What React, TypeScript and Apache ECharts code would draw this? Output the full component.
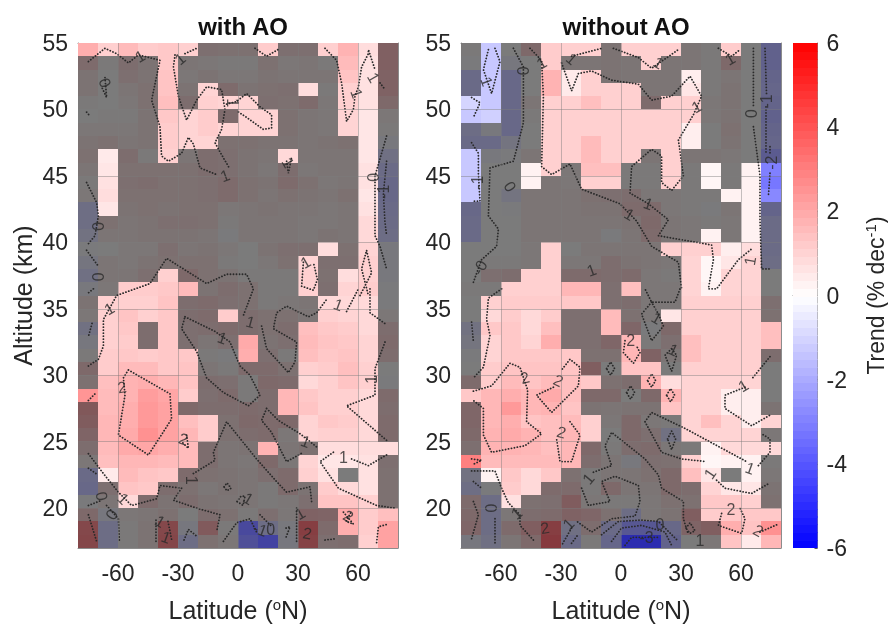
import React, { useEffect, useRef } from "react";
import * as echarts from "echarts";

const latitudes = [-75, -65, -55, -45, -35, -25, -15, -5, 5, 15, 25, 35, 45, 55, 65, 75];
const altitudes = [54.5,53.5,52.5,51.5,50.5,49.5,48.5,47.5,46.5,45.5,44.5,43.5,42.5,41.5,40.5,39.5,38.5,37.5,36.5,35.5,34.5,33.5,32.5,31.5,30.5,29.5,28.5,27.5,26.5,25.5,24.5,23.5,22.5,21.5,20.5,19.5,18.5,17.5];

const withAOValues = [
[1.9,1.1,1.6,1.2,1.3,1.1,.6,.5,.5,1.2,.6,.6,1.1,1.8,.8,1.3],
[.8,.1,.7,.4,1.3,.3,.2,.1,.1,.5,.2,.3,.1,1.6,.7,1.3],
[.4,0,.6,.4,1.4,.2,.4,.2,.2,.4,.3,.3,.3,1.4,.7,1.2],
[.4,0,.3,.5,1.4,.4,1.0,.8,.4,.5,.6,.8,.1,1.1,.7,1.2],
[.1,0,.2,.5,1.5,.7,1.1,1.0,1.0,.6,.5,.8,.2,1.1,.7,.9],
[0,.1,.1,.4,1.3,1.0,1.2,.8,1.0,1.0,.5,.3,.2,1.0,.6,.2],
[.2,.2,.2,.4,1.2,1.0,1.2,1.0,1.0,1.0,.5,.3,.2,1.0,.6,.1],
[.4,.5,.3,.4,1.2,1.0,1.0,.5,.5,.4,.4,.3,.4,.5,.6,-.2],
[.5,.5,.7,.1,1.1,.3,.7,.6,.4,.3,.9,.3,.3,.3,.6,-.8],
[.3,.6,.5,.5,.5,.5,.7,.6,.4,.2,.7,.2,.3,.3,.7,-1.1],
[.1,.7,.6,.7,.5,.5,.6,.8,.5,.4,.8,.5,.2,.3,.7,-1.3],
[.2,.8,.5,.5,.5,.5,.6,.8,.5,.3,.5,.4,.3,.5,.6,-1.3],
[-.9,.6,.4,.5,.4,.5,.5,.2,.3,.4,.3,.3,.2,.3,.7,-1.2],
[-.9,.5,.3,.4,.6,.6,.5,.1,.3,.3,.3,.2,.2,.3,.9,-1.1],
[-.6,.3,.3,.4,.4,.4,.3,-.1,.3,.3,.3,.2,.4,.3,.9,-1],
[-.1,0,.2,.2,.6,.3,.4,.2,0,.4,.6,.6,.8,.5,1.0,-.2],
[-.4,.3,.2,.4,.5,.5,.5,.1,0,.2,.5,1.0,.6,.6,1.1,-.2],
[-.8,.3,.3,.6,1.1,.9,.5,.4,.1,.1,.1,1.1,.5,.8,1.1,-.2],
[-.2,.2,1.2,1.2,1.3,1.6,.4,.7,.5,.1,.1,1.1,.6,1.0,1.2,-.1],
[.4,1.1,1.1,1.1,1.4,.7,.8,.6,.5,.1,.2,.3,.9,.9,.9,-.1],
[.2,1.1,1.4,1.1,1.3,.7,.8,1.2,.7,.5,.5,.3,1.1,1.0,.9,.2],
[-.7,1.1,1.3,.7,1.3,.6,.7,.8,.7,.5,.7,1.5,1.3,1.2,.9,.7],
[-.3,1.1,1.2,.7,1.3,.6,.3,.6,2,.4,.6,1.6,1.4,1.3,1.0,.8],
[.1,1.2,1.3,1.2,1.3,1.3,.1,-.1,1.9,.6,.1,1.5,1.3,1.4,1.0,.7],
[.9,1.2,1.6,1.6,1.3,1.4,.3,.1,.8,.8,.5,1.1,1.2,1.5,1.1,0],
[.5,1.5,1.8,1.9,1.7,1.4,.7,.6,.1,.9,.8,.9,1.1,1.4,1.1,-.1],
[2.5,1.6,1.8,2.3,2.1,1.2,.6,.8,.1,.7,1.7,1.3,1.1,1.1,.9,.8],
[1.7,1.6,1.9,2.4,2.2,.9,.7,.7,.8,.7,1.7,1.4,1.1,1.1,.9,.7],
[1.5,1.7,1.9,2.4,2.2,1.5,1.2,.5,.9,.8,.9,1.0,1.3,1.2,.9,.8],
[1.1,1.7,2.0,2.6,2.2,1.7,1.2,.5,.7,.8,.2,1.0,1.1,1.1,.9,.8],
[.7,1.6,2.0,2.1,1.9,1.6,.7,.3,.4,1.8,.3,.5,.8,.8,.8,.8],
[.2,1.5,1.7,1.7,1.6,1.6,.7,.3,.2,.9,.2,1.0,.6,.6,.7,.6],
[-1.2,.5,1.6,1.4,1.3,.8,.5,.4,.3,.6,.8,1.1,.7,0,.7,.5],
[-1.3,.6,1.4,1.3,.7,.5,.2,.4,.3,.1,.8,.4,1.2,.9,.7,.5],
[-.1,.3,.9,.8,.4,.7,.4,.3,.3,.1,.2,.6,1.4,1.4,1.1,.5],
[.9,-.3,.2,.3,.5,0,.7,.5,.1,.6,.2,1.2,1.1,2.0,1.2,1.5],
[2.5,-1,.1,.4,2.5,-.3,1.6,.1,-3.5,-1,-.2,3,.8,1.9,1.2,2.2],
[2.6,-1,.1,.4,2.6,-1,.5,.2,-3,-4,-.3,2.8,.6,.7,1.1,2.2],
];
const withAOSignificant = [
[0,1,2,3,4,5,9,12,13,14],[4,13,14],[4,13,14],[4,6,11,13,14],[4,6,7,8,13,14],[4,5,6,8,9,13,14],[4,5,6,7,8,9,13,14],[4,5,6,14],
[1,4,10,14],[1,14],[1,14],[1,14],[1,14],[14],[14],[12,14],[11,14],[4,11,13,14],[2,3,4,5,11,13,14],
[1,2,3,4,12,13,14],[1,2,3,4,7,12,13,14],[1,2,4,11,12,13,14],[1,2,4,8,11,12,13,14],[1,2,3,4,5,8,11,12,13,14],
[1,2,3,4,5,11,12,13,14],[1,2,3,4,5,11,12,13,14],[0,1,2,3,4,5,10,11,12,13,14],[1,2,3,4,10,11,12,13,14],
[1,2,3,4,5,6,11,12,13,14],[1,2,3,4,5,6,11,12,13,14],[1,2,3,4,5,9,12,13,14,15],[1,2,3,4,5,11,12,13,14],
[1,2,3,4,11,12,14],[2,3,12,13,14],[2,12,13,14],[13,14,15],[13,14,15],[14,15],
];

const withoutAOValues = [
[.1,-1.3,0,.9,1.2,1.1,1.1,.4,1.1,1.1,1.1,.3,.1,1.2,0,-1.8],
[-.1,-1.3,-.3,0,1.2,.3,.3,.4,.3,1.1,.3,.3,.1,.9,0,-1.8],
[-1.2,-1.3,-1.3,0,1.8,.5,1.1,.4,.3,.3,.3,.4,.1,.3,0,-1.6],
[-1.2,-1.3,-1.3,0,1.8,.5,1.1,1.1,1.1,.3,.3,.6,.1,.4,0,-1.5],
[-1,-1.3,-1.3,.3,1.1,1.1,1.5,1.1,1.1,.8,1.1,1.1,.2,.4,0,-1.6],
[-1.3,-1.1,-1.3,.1,1.1,1.1,1.1,1.1,1.1,1.1,1.1,1.1,.2,.4,0,-1.8],
[-1,-.2,-1.3,0,1.1,1.1,1.1,1.1,1.1,1.1,1.1,.4,0,.5,0,-1.6],
[-1.2,-1.2,-.5,0,1.1,1.1,1.6,1.1,1.1,1.1,1.1,.4,0,.4,0,-1.5],
[-1.3,-.2,-.1,.3,1.1,1.1,1.6,1.1,1.1,.3,1.1,.3,.3,.2,0,-2.2],
[-1.3,0,0,.3,1.1,.2,1.5,1.5,.1,.1,1.1,.1,.2,.1,.3,-3],
[-1.3,0,0,.3,.3,.2,1.1,1.1,.1,.1,1.1,.1,.2,.1,.3,-3.2],
[-1.3,0,-.5,.3,.3,.3,.5,.6,.7,.2,.2,.1,.1,.3,.3,-2.8],
[-1.3,0,-.1,.3,.3,.3,.4,.4,.8,.8,.2,.1,-.1,.3,.3,-1.6],
[-1.2,0,0,.3,.3,.3,.3,.3,.4,.9,.3,.2,.1,.2,.3,-1.1],
[-1.2,0,0,.3,.3,.3,.3,-.1,.3,.8,.3,.2,.3,.2,.3,-1.1],
[0,0,0,.2,1.1,0,.3,.3,.3,.3,1.1,1.1,1.1,.4,.8,-1.1],
[0,.1,.1,.2,1.1,.2,.2,.7,.4,.3,.2,1.0,.2,.6,1.0,-1],
[0,.6,.7,1.1,1.1,.8,.8,.7,.8,.2,.1,1.0,.2,1.0,1.0,0],
[.1,.1,1.1,1.1,1.1,1.7,1.7,.6,1.5,.2,.2,1.0,.3,1.0,1.0,0],
[0,1.1,1.2,1.2,1.2,1.3,1.3,.6,.7,.2,.2,1.1,1.1,1.1,1.1,.6],
[0,.9,1.2,.9,1.2,.6,.6,1.6,.5,.2,.6,1.1,1.1,1.1,1.1,.5],
[-.6,1.3,1.3,.9,1.5,.6,.6,1.6,1.0,-.1,.9,1.1,1.1,1.1,1.1,1.5],
[-.4,1.0,1.3,1.0,1.9,.6,.6,1.0,1.7,.1,.6,1.5,1.1,1.1,1.1,1.5],
[-.1,1.0,1.3,1.3,1.3,1.3,.5,.5,1.7,1.2,.3,1.5,1.1,1.1,1.1,.7],
[0,1.2,1.4,1.4,1.4,1.4,1.4,0,1.4,1.4,0,1.1,1.1,1.1,1.1,0],
[.8,1.2,1.6,1.4,1.6,1.5,1.3,.5,.7,1.8,.8,1,1,1,1,0],
[1.3,1.7,1.9,1.7,2,1.5,.9,.9,0,.9,1.8,1,1,.4,.4,0],
[1,1.7,2.4,1.7,1.8,1.4,.4,.3,.4,.4,1.4,1,1,.4,.4,.4],
[1,1.7,1.9,1.4,1.5,1.6,1.1,.2,.9,.2,.1,1,1.5,1,.4,1],
[.9,1.8,2,1.8,1.5,1.7,1.1,0,.9,.6,-.7,1,1,1,1,.2],
[.6,1.8,1.8,1.7,1.5,1.7,.9,.1,.7,.8,.2,.1,.3,.9,.9,.9],
[3,1.6,1.6,1.6,1.6,1.7,.7,.3,-.2,.6,.5,1.1,.2,.3,.3,.1],
[-.6,.3,1.3,.9,1.3,.5,.1,.3,.3,.5,.9,1.5,.6,0,.3,.2],
[-.9,-.1,1.2,.9,.8,.8,.1,.9,.3,.3,.9,.7,1,.6,.6,.4],
[.8,-1,.7,.5,.6,1.5,.2,.1,.1,.2,.5,.5,1.3,1.3,1.1,.5],
[.9,-1,.2,.7,.8,1.2,1,.5,-1,.2,.4,1.4,1.2,1.3,1.3,1.3],
[1,-1,.8,1.4,3,-.8,.7,-1.2,-2.5,-2.5,-1.3,1.1,1.4,1.9,1.4,2.6],
[-.3,-.8,.3,.9,3.2,-1.2,.1,-1.5,-5.5,-5.5,-1.7,0,.2,1.4,.5,1.7],
];
const withoutAOSignificant = [
[1,4,5,6,8,9,10,13],[1,4,9],[1,4,5,6,11],[1,4,5,6,7,8,11],[0,1,4,5,6,7,8,10,11],[0,1,4,5,6,7,8,9,10,11],[4,5,6,7,8,9,10,11],[4,5,6,7,8,9,10,11],
[0,4,5,6,7,8,10],[0,3,4,6,7,10,12,14,15],[0,3,6,7,10,12,14,15],[0,13,14,15],[14],[14],[12,14],[4,10,11,12,13,14],[4,11,12,13,14],[3,4,11,12,13,14],
[2,3,4,5,6,8,11,12,13,14],[1,2,3,4,5,6,11,12,13,14],[1,2,3,4,7,10,11,12,13,14],[1,2,3,4,7,11,12,13,14,15],[1,2,3,4,8,11,12,13,14,15],
[1,2,3,4,5,8,11,12,13,14],[1,2,3,4,5,8,9,11,12,13,14],[1,2,3,4,5,6,9,10,11,12,13,14],[0,1,2,3,4,5,10,11,12,13,14],[1,2,3,4,5,10,11,12,13,14],
[1,2,3,4,5,6,11,12,13,14,15],[1,2,3,4,5,6,11,12,13,14],[1,2,3,4,5,12,13,14,15],[0,1,2,3,4,5,11,12,13,14],[1,2,3,4,11,12,14],[2,3,12,13,14],[2,12,13,14],[12,13,14,15],[13,14,15],[13,14,15],
];

type P = [number, number];
const withAOContours: P[][] = [
[[-74.8,53.6],[-66.5,54.6],[-60.7,54.2],[-54.8,53.5],[-49.8,54.1],[-39,53.7],[-40.7,52.5],[-43.2,50.7],[-39,48.7],[-38.2,46.5],[-34.8,46.1],[-28.2,46.7],[-24.8,47.9],[-22.3,47.4],[-19,45.6],[-10.7,45.1]],
[[-31.5,54.1],[-32.3,53.2],[-29.8,51],[-25.7,49.2],[-20.7,50.7],[-15.7,51.7],[-8.2,51.5],[-6.5,50],[-8.2,48.5],[-11.5,47.5],[-9,46.8],[-4,45.5]],
[[-26.5,54.2],[-20.7,54.6]],
[[8.5,54.6],[14.3,54],[21,54.6]],
[[-5.7,50.4],[-.7,50.6],[4.3,51.2],[11,50.2],[16.8,49.6],[16.8,48.6],[12.7,48.5],[4.3,49.4],[-.7,49.9]],
[[43.5,54.6],[49.3,53.7],[51.8,52],[54.3,49.1],[57.7,50],[58.5,51],[60.2,51.7],[61.8,53.2],[65.2,54.2],[65.2,54.5],[68.5,53]],
[[71,52],[73.5,51.5]],
[[24.3,46.1],[25.2,45.2],[26.8,46.4]],
[[-66.5,52.4],[-65.7,50.9],[-68.2,51.7]],
[[-75.7,49.8],[-74,49.5]],
[[-75.7,44.5],[-70.7,43],[-69.8,42],[-71.5,40.5],[-74.8,39.9]],
[[-75.7,39.4],[-69.8,38.2]],
[[-72.3,36.5],[-74.8,36.2]],
[[74.3,48],[68.5,45],[68.5,40.5],[71,39.7],[74.3,38]],
[[74.3,46.1],[72.7,43.7],[73.5,41.5],[74.3,40.5]],
[[-74.8,30.7],[-69.8,31.2],[-67.3,32.2],[-67.3,34.2],[-60.7,36],[-44,36.9],[-35.7,38.8],[-15.7,36.9],[-5.7,37.6],[4.3,37.6],[7.7,36.5],[2.7,34.5]],
[[32.7,38.5],[31.8,36.7],[37.7,36.4],[39.7,37.2],[37.7,38.5]],
[[61,36],[66.8,37.7],[64.3,39.4],[61.8,38],[65.2,36]],
[[-54.8,30.4],[-34,28.6],[-33.2,26.7],[-44.8,24],[-59.8,25.5],[-56.5,28.5],[-57.3,29.8],[-54.8,30.4]],
[[-25.7,25.5],[-24.8,24.5],[-28.2,25]],
[[-26.5,34.4],[-11.5,33.3],[-4,32.5],[1,30.7],[6,30],[11,28.5],[5.2,27.7],[-7.3,28.7],[-15.7,29.8],[-20.7,31.8],[-28.2,33.5],[-26.5,34.4]],
[[11.8,33.7],[14.3,32],[25.2,30.2],[28.5,31],[29.3,32.5],[17.7,33.5],[19.3,34.7],[24.3,35.2],[35.2,34.4],[39.3,34.7],[44.3,35.7]],
[[54.3,34.8],[60.2,36.5]],
[[66,36.5],[66,34.7],[74.3,33.8]],
[[73.5,32.5],[68.5,30.5],[68.5,28.5],[54.3,27.7],[74.3,25.1]],
[[-74.8,28.1],[-71.5,28.6]],
[[14.3,27.5],[20.2,26.6],[31,25.6],[40.2,24.5]],
[[14.3,27.5],[11.8,26.6],[16.8,25.7],[24.3,23.5],[32.7,24.2]],
[[47.7,24.2],[41,23.5],[50.2,21.5],[69.3,20.2],[78.5,20]],
[[56.8,23.7],[65.2,23.2],[74.3,24]],
[[-22.3,22.6],[-11.5,23.6],[-12.3,24.2],[-5.7,26.5],[9.3,23.7],[19.3,22],[24.3,21.2],[36,21.6],[36.8,20.5]],
[[-74.8,24.1],[-67.3,22.6],[-59.8,21.2],[-53.2,20.2],[-40.7,20.7],[-39,21.7],[-28.2,21.5],[-32.3,20.6],[-20.7,20],[-9,19.5],[-10.7,18.2]],
[[-74.8,23],[-70,22.5]],
[[-74.8,20.2],[-68,20.6]],
[[-65.7,20.2],[-59.8,19.2],[-59.3,17.5]],
[[-74.8,19.5],[-70.7,17.5]],
[[-7,21.6],[-5.5,21.9],[-3.5,21.5],[-5.5,21.3],[-7,21.6]],
[[-.5,20.5],[1.5,20.9],[3.5,20.9],[2.5,20.2],[-.5,20.5]],
[[29.3,20],[29.3,17.5]],
[[-27,17.6],[-24.8,18.4],[-20.7,17.9]],
[[-7.3,17.5],[-.7,18.9],[6,19.2],[9.3,18.2]],
[[69.3,17.4],[70.2,18.6],[75.2,18.8]],
[[43.5,17.6],[49.3,17.7]],
[[52.7,19.7],[57.7,18.8],[54,19],[56.5,19.7]],
[[-41,17.5],[-41,19.2]],
[[-35,19],[-33,17.5]],
[[11,19.5],[16.3,18.7]],
[[24,18.5],[26,18.6],[24,17.8]],
[[-73,33.9],[-74.8,32.9]],
];
const withoutAOContours: P[][] = [
[[-45.5,54.6],[-39.7,53.7],[-38.8,51],[-39.7,45.7],[-34.7,45.1],[-25.5,45.9],[-19.7,44],[-.5,42.9],[7.8,41.6],[15.3,39.7],[28.7,38.5],[30.3,36.5],[29.5,36.5],[27,35.5],[15.3,35.5],[12,36.5]],
[[-29.7,53.5],[-24.7,51.4],[-21.3,52.7],[-14.7,52.9],[-4.7,52.2],[8.7,51.9],[15.3,50.7],[25.3,51],[34.5,52.5],[40.3,51],[36.2,49.6],[28.7,47.7],[31.2,45],[25.3,43.9],[20.3,44.5],[20.3,46.5],[15.3,47],[5.3,45.7],[4.5,43.7],[13.7,42.9],[23.7,41.7],[18.7,40.5],[45.3,39.8],[46.2,38.7],[43.7,36.5],[47.8,36.5],[58.7,38.7],[65.3,39.5]],
[[-24.7,54],[-9.7,54.6]],
[[-3.8,54.6],[8.7,53.9],[15.3,53.1],[28.7,54.5]],
[[48.7,54.6],[55.3,54],[59.5,54.5]],
[[-53.8,54.6],[-48.8,53.2],[-48.8,49],[-53.8,46.1],[-65.5,45.6],[-66.3,42],[-61.3,41],[-62.2,39.7],[-69.7,38.7],[-73.8,37]],
[[-66.3,54.5],[-68.8,53],[-64.7,51.2],[-60.5,53.6],[-63,54.6]],
[[-74.7,50.9],[-70.5,50.5],[-73.8,49.4]],
[[-74.7,47.5],[-71.3,46.7],[-71.3,45.2],[-70.5,43.1],[-74.7,43.1]],
[[66.2,54.6],[66.2,50.2]],
[[66.2,48.7],[69.5,45],[69.5,41.7],[70.3,38],[74,38]],
[[72,54.6],[72.8,51]],
[[72.5,50.2],[72.5,46.7]],
[[74.5,47.2],[74.5,46.6]],
[[74.5,45.2],[73.7,43.5]],
[[-59.7,36.5],[-66.3,35.8],[-67.2,34.2],[-65.5,33],[-68.8,30.6],[-73.8,29.8]],
[[-73.8,28.8],[-64.7,29.2],[-55.5,30.9],[-50.5,30.6],[-46.7,28.9],[-47.2,26.5],[-39.7,25.6],[-48,24.7],[-64.7,24.2],[-68.8,25.5],[-68.8,27.5],[-73.8,28.1]],
[[-33.8,29.1],[-42.2,28.5],[-34.7,27.2],[-21.3,29.2],[-20.5,30.6],[-25.5,31.2],[-29.7,30.4]],
[[-25.5,26.5],[-20.5,25.5],[-24.7,23.5],[-30.5,23.5],[-32.2,25.2]],
[[12,26.5],[15.3,27.2],[32,26],[62.8,23.5]],
[[68.7,23.2],[74.5,24.2],[74.5,25.2],[70.3,25.6]],
[[12,26.5],[20.3,24.2],[30.3,23.7],[42.8,23.5]],
[[47.8,22.1],[52,21.5],[65.3,21.1],[74.5,21.9]],
[[74.5,31.4],[65.3,29.7]],
[[62,29.1],[52,28.5],[52,27.5],[65.3,26.2],[74.5,27]],
[[15.3,35.5],[10.3,34.6],[15.3,32.6],[21.2,33.7],[18.7,34.6],[15.3,35.5]],
[[2,32.6],[1.2,31.7],[6.2,30.9],[9.5,31.7],[7.8,32.2]],
[[25.3,32],[22,31.5],[25.3,30.3],[27.8,31.5],[25.3,32]],
[[-7.2,30.5],[-5.2,31],[-3.2,30.5],[-5.2,30],[-7.2,30.5]],
[[13.3,29.6],[15.3,30.1],[17.3,29.6],[15.3,29.1],[13.3,29.6]],
[[2.8,28.7],[4.8,29.2],[6.8,28.7],[4.8,28.2],[2.8,28.7]],
[[22.8,28.5],[24.8,29],[26.8,28.5],[24.8,28],[22.8,28.5]],
[[23.3,25.2],[25.3,25.8],[27.3,25.2],[25.3,24.4],[23.3,25.2]],
[[-13.8,22.7],[-4.7,23.2],[-8,24.7],[-4.7,25.7],[12,23.7],[18.7,22.5],[20.3,21.5],[31.2,20.5],[31.2,19.2],[33.7,18]],
[[-19.7,21.5],[-16.3,20.2],[-5.5,20.5],[-9.7,22],[-3,22.4],[8.7,21.7],[9.5,20.5],[7,19.4],[-4.7,19.2],[-14.7,18.2],[-22,19]],
[[-74.7,22.8],[-63,22.8],[-59.7,21.5],[-56.3,20.4],[-50.5,19.5],[-50.5,18.7],[-43.8,17.6]],
[[-73.8,20.5],[-71.3,19.5],[-74.7,17.7]],
[[-63,19.2],[-63,17.2]],
[[-74.7,34],[-73.8,32.5]],
[[-9.7,18],[-1.3,19],[10.3,19.1],[18.7,19],[28.7,17.5]],
[[-4.7,17.5],[.3,18.5],[10.3,18.7],[22,18.2],[25.3,17.2]],
[[2,17.2],[5.3,17.8],[18.7,17.8]],
[[-24.7,18.5],[-29.7,17.2]],
[[-22,17.9],[-25.5,17.2]],
[[50.3,19.6],[48.7,18.7],[60.3,18.1],[62,19.2],[59.5,20]],
[[69.5,18.2],[78.7,18.8]],
[[32.5,18.5],[34.5,18.9],[37,18.3],[34.5,18.1],[32.5,18.5]],
[[-73.8,22],[-69.7,21.5]],
[[-74.7,23.7],[-69.7,23.6],[-73.8,23.3]],
];

type L = [number, number, string, number];
const withAOLabels: L[] = [
[-66.5,52,"0",-70],[-49,54,"1",30],[-29,53.8,"1",40],[59.3,51.2,"1",-70],[67.7,52.4,"1",-60],[-3,50.5,"1",-90],[-6.5,45,"1",20],[25,46,"1",-60],
[-70,41.2,"0",90],[-70,37.4,"0",90],[67.7,44.9,"0",90],[72.7,43.8,"-1",90],[33.8,38.5,"1",30],[-64.3,35,"1",30],[-58,29.1,"2",10],[-27.3,25.2,"2",-20],
[-7.8,32.8,"1",-20],[6.3,34,"1",-15],[50.2,35.3,"1",-20],[66.8,29.7,"1",90],[33.8,25,"1",-20],[52.7,23.8,"1",0],[-23.2,22.1,"1",-90],[-57.3,20.7,"1",-45],
[-68.2,20.9,"0",-80],[-63.2,19.5,"0",60],[-39,19,"1",-30],[5.2,20.7,"1",-30],[55.2,19.4,"2",-30],[31,19.6,"1",30],[34.7,18.1,"2",-10],[16.3,18.4,"0",0],[11,18.4,"-1",-20],[-36,17.8,"1",-20],
];
const withoutAOLabels: L[] = [
[-39.7,53.5,"1",30],[-24.7,53.8,"1",-40],[18.7,53.5,"1",-30],[-67.2,52.1,"1",-70],[-48.8,52.9,"0",90],[54.5,53.8,"1",30],[65.3,49.7,"0",90],[72.8,50.6,"-1",90],[37.8,50.2,"1",30],
[75.3,46,"-2",90],[-71.8,44.5,"-1",90],[-55.5,44.2,"0",-60],[13.7,42.9,"1",-20],[4.2,42.1,"1",-30],[-14.7,37.9,"1",20],[-70.5,38.1,"-0",60],[64.5,38.6,"1",80],
[17.8,34.3,"1",-30],[4.8,32.6,"2",0],[26.2,31.9,"1",-25],[-48,29.8,"2",15],[-31.3,29.6,"2",-25],[-29.7,25.7,"2",-15],[61.2,29.2,"1",30],[64.5,23,"1",-20],[44.5,22.6,"1",55],
[-16.3,22.2,"1",50],[-52.2,19.6,"1",40],[-64.7,20,"0",90],[-38,18.5,"2",10],[-26.3,18.8,"1",45],[55,19.9,"2",0],[68.7,18.3,"2",-30],[19.5,18.8,"0",0],[12.8,17.8,"-3",0],[39.5,17.6,"1",0],
];

const majorLatitudes = [-60, -30, 0, 30, 60];
const majorAltitudes = [20, 25, 30, 35, 40, 45, 50, 55];
const minorLatitudes = [-75,-70,-65,-60,-55,-50,-45,-40,-35,-30,-25,-20,-15,-10,-5,0,5,10,15,20,25,30,35,40,45,50,55,60,65,70,75];
const minorAltitudes = [18,19,20,21,22,23,24,25,26,27,28,29,30,31,32,33,34,35,36,37,38,39,40,41,42,43,44,45,46,47,48,49,50,51,52,53,54];
const colorbarTicks = [-6, -4, -2, 0, 2, 4, 6];
const colorbarLevels = Array.from({ length: 64 }, (_, i) => -6 + (i + 0.5) * (12 / 64));

const FONT = "Liberation Sans, Arial, sans-serif";
const TEXT = "#262626";
const FRAME = "#8c8c8c";
const TICK_SIZE = 23;
const NAME_SIZE = 25;

function cells(values: number[][], sig: number[][], wanted: boolean) {
  const out: number[][] = [];
  values.forEach((row, r) =>
    row.forEach((v, c) => {
      if (sig[r].includes(c) === wanted) out.push([latitudes[c], altitudes[r], v]);
    })
  );
  return out;
}
function flatten(lines: P[][]) {
  const out: (number | null)[][] = [];
  lines.forEach((l) => { l.forEach((p) => out.push(p)); out.push([null, null]); });
  return out;
}
const renderCell = (_: any, api: any) => {
  const c = api.coord([api.value(0), api.value(1)]);
  const s = api.size([10, 1]);
  const x0 = Math.round(c[0] - s[0] / 2), x1 = Math.round(c[0] + s[0] / 2);
  const y0 = Math.round(c[1] - s[1] / 2), y1 = Math.round(c[1] + s[1] / 2);
  return { type: "rect", shape: { x: x0, y: y0, width: x1 - x0, height: y1 - y0 }, style: { fill: api.visual("color") } };
};
const renderBand = (_: any, api: any) => {
  const c = api.coord([0.5, api.value(1)]);
  const s = api.size([1, 12 / 64]);
  return {
    type: "rect",
    shape: { x: c[0] - s[0] / 2, y: Math.round(c[1] - s[1] / 2), width: s[0], height: Math.ceil(s[1]) + 1 },
    style: { fill: api.visual("color") },
  };
};
const supRich = { s: { fontFamily: FONT, fontSize: 15, color: TEXT, padding: [0, 0, 11, 0] } };

function xAxes(gridIndex: number) {
  const common = { gridIndex, type: "value", min: -80, max: 80, splitLine: { show: false },
    axisLine: { show: true, onZero: false, lineStyle: { color: FRAME, width: 1 } } };
  return [
    { ...common, position: "bottom",
      name: "Latitude ({s|o}N)", nameLocation: "middle", nameGap: 49,
      nameTextStyle: { fontFamily: FONT, fontSize: NAME_SIZE, color: TEXT, rich: supRich },
      axisTick: { show: true, inside: true, length: 3, customValues: minorLatitudes, lineStyle: { color: "#555" } },
      axisLabel: { show: true, customValues: majorLatitudes, margin: 13, fontFamily: FONT, fontSize: TICK_SIZE, color: TEXT } },
    { ...common, position: "top",
      axisTick: { show: true, inside: true, length: 3, customValues: minorLatitudes, lineStyle: { color: "#555" } },
      axisLabel: { show: false } },
  ];
}
function yAxes(gridIndex: number, named: boolean) {
  const common = { gridIndex, type: "value", min: 17, max: 55, splitLine: { show: false },
    axisLine: { show: true, onZero: false, lineStyle: { color: FRAME, width: 1 } } };
  return [
    { ...common, position: "left",
      ...(named ? { name: "Altitude (km)", nameLocation: "middle", nameGap: 43, nameRotate: 90,
        nameTextStyle: { fontFamily: FONT, fontSize: NAME_SIZE, color: TEXT } } : {}),
      axisTick: { show: true, inside: true, length: 3, customValues: minorAltitudes, lineStyle: { color: "#555" } },
      axisLabel: { show: true, customValues: majorAltitudes, margin: 10, fontFamily: FONT, fontSize: TICK_SIZE, color: TEXT } },
    { ...common, position: "right",
      axisTick: { show: true, inside: true, length: 3, customValues: minorAltitudes, lineStyle: { color: "#555" } },
      axisLabel: { show: false } },
  ];
}
function panel(index: number, values: number[][], sig: number[][], contours: P[][], labels: L[]) {
  const axes = { xAxisIndex: index * 2, yAxisIndex: index * 2 };
  const cellSeries = (wanted: boolean) => ({ ...axes, type: "custom", data: cells(values, sig, wanted), renderItem: renderCell, encode: { x: 0, y: 1 }, silent: true, clip: true, z: 1 });
  return [
    cellSeries(true),
    cellSeries(false),
    { ...axes, type: "line", data: [[null, null]], symbol: "none", silent: true, z: 2, lineStyle: { opacity: 0 },
      markLine: { silent: true, symbol: "none", label: { show: false }, animation: false,
        lineStyle: { color: "rgba(125,125,125,0.45)", width: 1, type: "solid" },
        data: [...majorLatitudes.map((v) => ({ xAxis: v })), ...majorAltitudes.slice(0, -1).map((v) => ({ yAxis: v }))] } },
    { ...axes, type: "line", data: flatten(contours), symbol: "none", silent: true, connectNulls: false, z: 3,
      lineStyle: { color: "#2a2a2a", width: 1.8, type: [0.1, 2.9], cap: "round" } },
    { ...axes, type: "scatter", symbolSize: 0, silent: true, z: 4,
      data: labels.map((l) => ({ value: [l[0], l[1]], label: { show: true, position: "inside", formatter: l[2], rotate: l[3], fontFamily: FONT, fontSize: 16, color: "#2a2a2a" } })) },
  ];
}

export default function App() {
  const ref = useRef<HTMLDivElement>(null);
  useEffect(() => {
    const chart = echarts.init(ref.current!, null, { renderer: "svg" });
    const titleStyle = { fontFamily: FONT, fontSize: 24, fontWeight: "bold", color: "#111" };
    chart.setOption({
      animation: false,
      backgroundColor: "#fff",
      title: [
        { text: "with AO", left: 238, top: 9, textAlign: "center", textStyle: titleStyle },
        { text: "without AO", left: 621, top: 9, textAlign: "center", textStyle: titleStyle },
      ],
      grid: [
        { left: 78, top: 43, width: 320, height: 505 },
        { left: 461, top: 43, width: 320, height: 505 },
        { left: 793, top: 43, width: 25, height: 505 },
      ],
      xAxis: [...xAxes(0), ...xAxes(1),
        { gridIndex: 2, type: "value", min: 0, max: 1, position: "bottom", axisLabel: { show: false }, axisTick: { show: false }, splitLine: { show: false },
          axisLine: { show: true, lineStyle: { color: FRAME } } }],
      yAxis: [...yAxes(0, true), ...yAxes(1, false),
        { gridIndex: 2, type: "value", min: -6, max: 6, interval: 2, position: "right", splitLine: { show: false },
          axisLine: { show: true, onZero: false, lineStyle: { color: FRAME } },
          axisTick: { show: true, inside: true, length: 3, lineStyle: { color: "#555" } },
          axisLabel: { show: true, margin: 9, fontFamily: FONT, fontSize: TICK_SIZE, color: TEXT, customValues: colorbarTicks },
          name: "Trend (% dec{s|-1})", nameLocation: "middle", nameRotate: 90, nameGap: 45,
          nameTextStyle: { fontFamily: FONT, fontSize: 23, color: TEXT, rich: supRich } }],
      visualMap: [
        { show: false, type: "continuous", dimension: 2, min: -6, max: 6,
          seriesIndex: [0, 5, 10], inRange: { color: ["#0000ff", "#ffffff", "#ff0000"] } },
        { show: false, type: "continuous", dimension: 2, min: -6, max: 6,
          seriesIndex: [1, 6], inRange: { color: ["#2525b5", "#7b7b7b", "#900008"] } },
      ],
      series: [
        ...panel(0, withAOValues, withAOSignificant, withAOContours, withAOLabels),
        ...panel(1, withoutAOValues, withoutAOSignificant, withoutAOContours, withoutAOLabels),
        { type: "custom", xAxisIndex: 4, yAxisIndex: 4, data: colorbarLevels.map((v) => [0.5, v, v]), renderItem: renderBand, encode: { x: 0, y: 1 }, silent: true, clip: true },
      ],
    });
    return () => chart.dispose();
  }, []);
  return <div ref={ref} style={{ position: "absolute", left: 0, top: 0, width: 888, height: 628, filter: "blur(0.6px)" }} />;
}
